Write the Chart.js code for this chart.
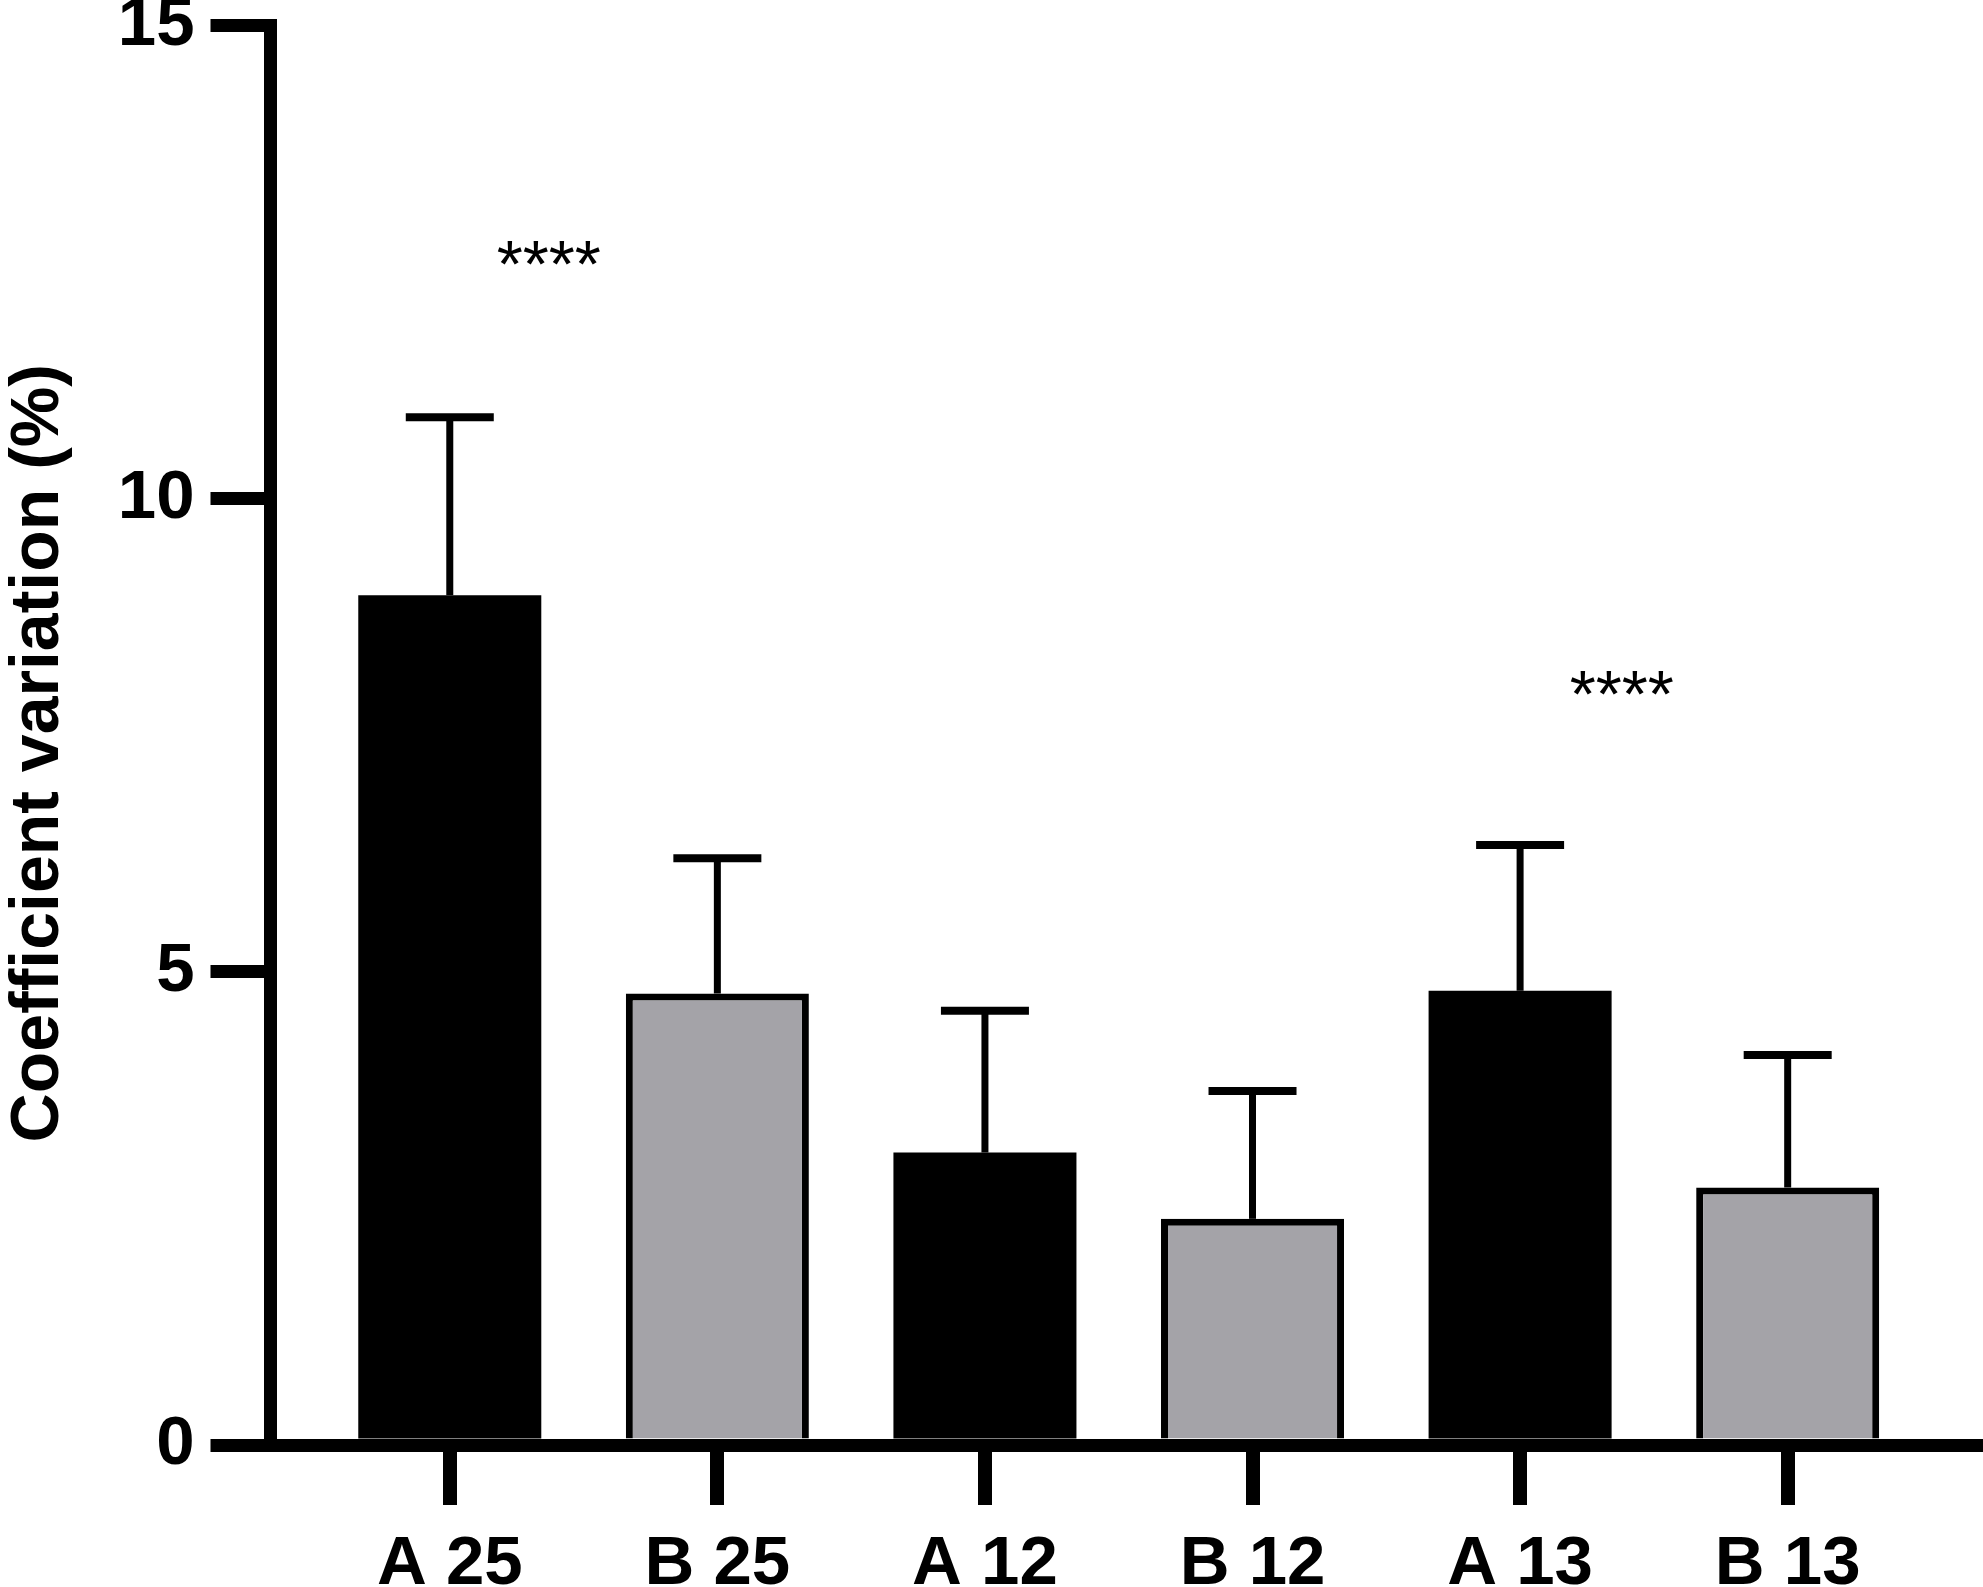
<!DOCTYPE html>
<html>
<head>
<meta charset="utf-8">
<script src="https://cdn.jsdelivr.net/npm/chart.js@4/dist/chart.umd.min.js"></script>
<style>
  html, body { margin: 0; padding: 0; background: #ffffff; }
  #wrap { width: 1983px; height: 1587px; }
</style>
</head>
<body>
<div id="wrap"><canvas id="c" width="1983" height="1587"></canvas></div>
<script>
// ---- data ----
const categories = ['A 25', 'B 25', 'A 12', 'B 12', 'A 13', 'B 13'];
const groups = ['A', 'B', 'A', 'B', 'A', 'B'];
const meanValues = [8.98, 4.77, 3.09, 2.39, 4.80, 2.72];
const sdValues = [1.88, 1.43, 1.50, 1.35, 1.54, 1.40];
const yTickValues = [0, 5, 10, 15];
const sigLabels = ['****', '****'];
const sigX = [0.37, 4.38];
const sigY = [12.6, 8.05];
const yTitle = 'Coefficient variation (%)';

const groupColors = { A: '#000000', B: '#a4a3a8' };
const groupBorder = { A: 0, B: 7 };

const extras = {
  id: 'extras',
  afterDatasetsDraw(chart) {
    const ctx = chart.ctx;
    const meta = chart.getDatasetMeta(0);
    const ys = chart.scales.y;
    ctx.save();
    ctx.strokeStyle = '#000';
    ctx.lineCap = 'butt';
    meta.data.forEach((bar, i) => {
      const top = ys.getPixelForValue(meanValues[i] + sdValues[i]);
      ctx.lineWidth = 7;
      ctx.beginPath();
      ctx.moveTo(bar.x, bar.y);
      ctx.lineTo(bar.x, top);
      ctx.stroke();
      ctx.lineWidth = 8;
      ctx.beginPath();
      ctx.moveTo(bar.x - 44, top);
      ctx.lineTo(bar.x + 44, top);
      ctx.stroke();
    });
    // significance markers
    ctx.fillStyle = '#000';
    ctx.font = '67px "Liberation Sans", Arial, sans-serif';
    ctx.textAlign = 'center';
    ctx.textBaseline = 'alphabetic';
    sigLabels.forEach((t, i) => {
      const m = ctx.measureText(t);
      const px = chart.scales.x.getPixelForValue(sigX[i]);
      const py = ys.getPixelForValue(sigY[i]);
      const base = py + (m.actualBoundingBoxAscent - m.actualBoundingBoxDescent) / 2;
      ctx.fillText(t, px, base);
    });
    ctx.restore();
  },
  afterDraw(chart) {
    // y-axis title
    const ctx = chart.ctx;
    const a = chart.chartArea;
    ctx.save();
    ctx.fillStyle = '#000';
    ctx.font = 'bold 68px "Liberation Sans", Arial, sans-serif';
    ctx.textAlign = 'center';
    ctx.textBaseline = 'middle';
    ctx.translate(a.left - 231, (a.top + a.bottom) / 2 + 18);
    ctx.rotate(-Math.PI / 2);
    ctx.fillText(yTitle, 0, 0);
    ctx.restore();
  }
};

const tickFont = { family: '"Liberation Sans", Arial, sans-serif', size: 69, weight: 'bold' };

new Chart(document.getElementById('c'), {
  type: 'bar',
  data: {
    datasets: [{
      data: categories.map((c, i) => ({ x: i, y: meanValues[i] })),
      backgroundColor: groups.map(g => groupColors[g]),
      borderColor: '#000000',
      borderWidth: groups.map(g => groupBorder[g]),
      borderSkipped: 'start',
      barPercentage: 0.684,
      categoryPercentage: 1.0
    }]
  },
  options: {
    responsive: false,
    devicePixelRatio: 1,
    animation: false,
    layout: { padding: { top: 25.5, right: 4, bottom: 0, left: 0 } },
    plugins: { legend: { display: false }, tooltip: { enabled: false } },
    scales: {
      x: {
        type: 'linear',
        offset: false,
        min: -0.67,
        max: 5.715,
        z: 1,
        afterBuildTicks(scale) { scale.ticks = categories.map((c, i) => ({ value: i })); },
        afterFit(scale) {
          scale.height = 142;
          scale.paddingLeft = 0; scale.paddingRight = 0;
        },
        ticks: {
          autoSkip: false,
          maxRotation: 0,
          padding: 19,
          color: '#000',
          font: tickFont,
          callback: (v) => categories[v]
        },
        grid: {
          offset: false,
          drawOnChartArea: false,
          drawTicks: true,
          tickLength: 60,
          lineWidth: 14,
          color: '#000',
          tickColor: '#000'
        },
        border: { display: true, color: '#000', width: 13 }
      },
      y: {
        min: 0,
        max: 15,
        z: 1,
        afterBuildTicks(scale) { scale.ticks = yTickValues.map(v => ({ value: v })); },
        afterFit(scale) {
          scale.width = 270.5;
          scale.paddingTop = 0; scale.paddingBottom = 0;
        },
        ticks: {
          padding: 16,
          color: '#000',
          font: tickFont
        },
        grid: {
          drawOnChartArea: false,
          drawTicks: true,
          tickLength: 60,
          lineWidth: 13,
          color: '#000',
          tickColor: '#000'
        },
        border: { display: true, color: '#000', width: 13 },
        title: { display: false }
      }
    }
  },
  plugins: [extras]
});
</script>
</body>
</html>
